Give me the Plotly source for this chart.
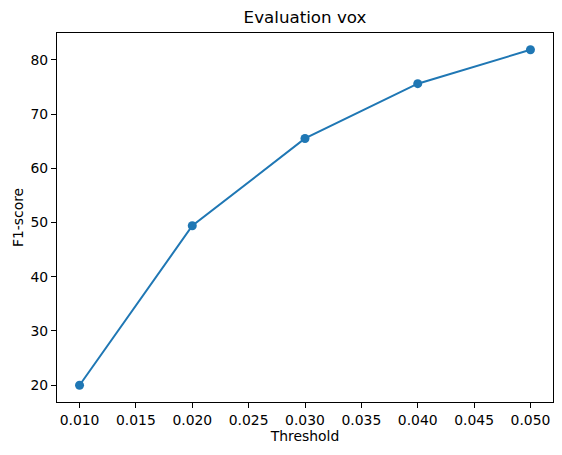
import plotly.graph_objects as go

# threshold vs F1-score
thresholds = [0.01, 0.02, 0.03, 0.04, 0.05]
f1_scores = [20.0, 49.4, 65.5, 75.6, 81.85]

x_ticks = [0.010, 0.015, 0.020, 0.025, 0.030, 0.035, 0.040, 0.045, 0.050]
x_tick_labels = ["%.3f" % t for t in x_ticks]
y_ticks = [20, 30, 40, 50, 60, 70, 80]

BLUE = "#1f77b4"
FONT = "DejaVu Sans"

# page body has an 8px margin, so the figure is sized a bit smaller
W, H = 554, 447
ML, MR, MT, MB = 49, 9, 25, 53

fig = go.Figure()
fig.add_trace(go.Scatter(
    x=thresholds, y=f1_scores, mode="lines+markers",
    line=dict(color=BLUE, width=2),
    marker=dict(color=BLUE, size=9),
    showlegend=False,
))

# matplotlib-like 5% margins around the data
xspan = max(thresholds) - min(thresholds)
yspan = max(f1_scores) - min(f1_scores)
xr = [min(thresholds) - 0.05 * xspan, max(thresholds) + 0.05 * xspan]
yr = [min(f1_scores) - 0.05 * yspan, max(f1_scores) + 0.05 * yspan]

axis_common = dict(
    showgrid=False, zeroline=False, automargin=False,
    showline=True, linecolor="black", linewidth=1, mirror=True,
    ticks="outside", ticklen=5, tickwidth=1, tickcolor="black",
    tickfont=dict(family=FONT, size=13.9, color="black"),
)

fig.update_xaxes(range=xr, tickvals=x_ticks, ticktext=x_tick_labels,
                 title=dict(text="Threshold", font=dict(family=FONT, size=13.9, color="black"), standoff=4),
                 **axis_common)
fig.update_yaxes(range=yr, tickvals=y_ticks,
                 title=dict(text="F1-score", font=dict(family=FONT, size=13.9, color="black"), standoff=3),
                 **axis_common)

fig.update_layout(
    width=W, height=H,
    margin=dict(l=ML, r=MR, t=MT, b=MB, pad=0),
    paper_bgcolor="white", plot_bgcolor="white",
    title=dict(text="Evaluation vox", x=(ML + W - MR) / 2 / W, xanchor="center",
               y=1 - 9 / H, yanchor="middle", automargin=False,
               font=dict(family=FONT, size=16.7, color="black")),
)

fig.write_html("out.html")
